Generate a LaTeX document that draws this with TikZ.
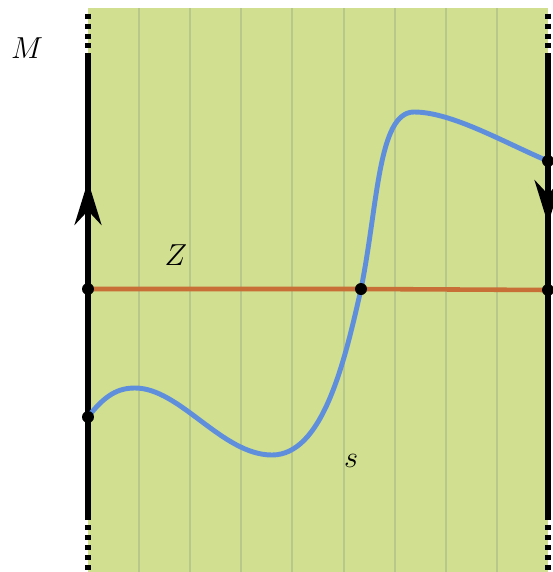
\documentclass[tikz,border=0pt]{standalone}
\usepackage{tikz}
\usepackage{xcolor}
\usetikzlibrary{arrows.meta}
\definecolor{StripGreen}{HTML}{D0DF90}
\definecolor{StripLine}{HTML}{B8C78A}
\definecolor{CurveBlue}{HTML}{5F8FDC}
\definecolor{ZOrange}{HTML}{C86E37}

\begin{document}
\begin{tikzpicture}[
    x=0.02cm, y=-0.02cm,
    edge/.style={line width=3pt, black},
    dotedge/.style={line width=3pt, black, dash pattern=on 0.1cm off 0.1cm},
    edgearrow/.style={line width=3pt, black, -{Stealth[length=0.88cm, width=0.54cm]}},
    strip/.style={line width=1.1pt, color=StripLine},
    curve/.style={line width=2.8pt, color=CurveBlue},
    zline/.style={line width=2.6pt, color=ZOrange},
    dot/.style={circle, fill=black, inner sep=0pt, minimum size=0.24cm},
    lbl/.style={font=\LARGE, inner sep=0pt}
  ]
    \useasboundingbox (0,0) rectangle (553,572);

    % the strip
    \fill[StripGreen] (88,8) rectangle (548,572);
    \foreach \i in {1,...,8}
      \draw[strip] (88+\i*51.11,8) -- (88+\i*51.11,572);

    % boundary points
    \coordinate (ltop) at (88,13.5);
    \coordinate (lup) at (88,55);
    \coordinate (ldown) at (88,520);
    \coordinate (lbot) at (88,525);
    \coordinate (lend) at (88,572);
    \coordinate (rtop) at (548,13.5);
    \coordinate (rup) at (548,55);
    \coordinate (rdown) at (548,520);
    \coordinate (rbot) at (548,525);
    \coordinate (rend) at (548,572);

    \draw[dotedge] (ltop) -- (lup);
    \draw[edge] (lup) -- (ldown);
    \draw[dotedge] (lbot) -- (lend);
    \draw[dotedge] (rtop) -- (rup);
    \draw[edge] (rup) -- (rdown);
    \draw[dotedge] (rbot) -- (rend);

    % orientation of the edges
    \coordinate (lafrom) at (88,240);
    \coordinate (lato) at (88,181);
    \coordinate (rafrom) at (548,170);
    \coordinate (rato) at (548,224);
    \draw[edgearrow] (lafrom) -- (lato);
    \draw[edgearrow] (rafrom) -- (rato);

    % points
    \coordinate (zl) at (88,289);
    \coordinate (zm) at (361,289);
    \coordinate (zr) at (548,290);
    \coordinate (sl) at (88,417);
    \coordinate (sr) at (548,161);

    \draw[zline] (zl) -- (zm) -- (zr);
    \draw[curve] (sl) .. controls (105,395) and (118,388) .. (135,388)
      .. controls (180,388) and (222,455) .. (272,455)
      .. controls (322,455) and (344,365) .. (zm)
      .. controls (378,205) and (378,112) .. (414,112)
      .. controls (452,112) and (505,143) .. (sr);

    \node[dot] (zldot) at (zl) {};
    \node[dot] (zmdot) at (zm) {};
    \node[dot] (zrdot) at (zr) {};
    \node[dot] (sldot) at (sl) {};
    \node[dot] (srdot) at (sr) {};

    \node[lbl] (mlabel) at (27,48) {$M$};
    \node[lbl] (zlabel) at (176,255) {$Z$};
    \node[lbl] (slabel) at (351,461) {$s$};
  \end{tikzpicture}
\end{document}
